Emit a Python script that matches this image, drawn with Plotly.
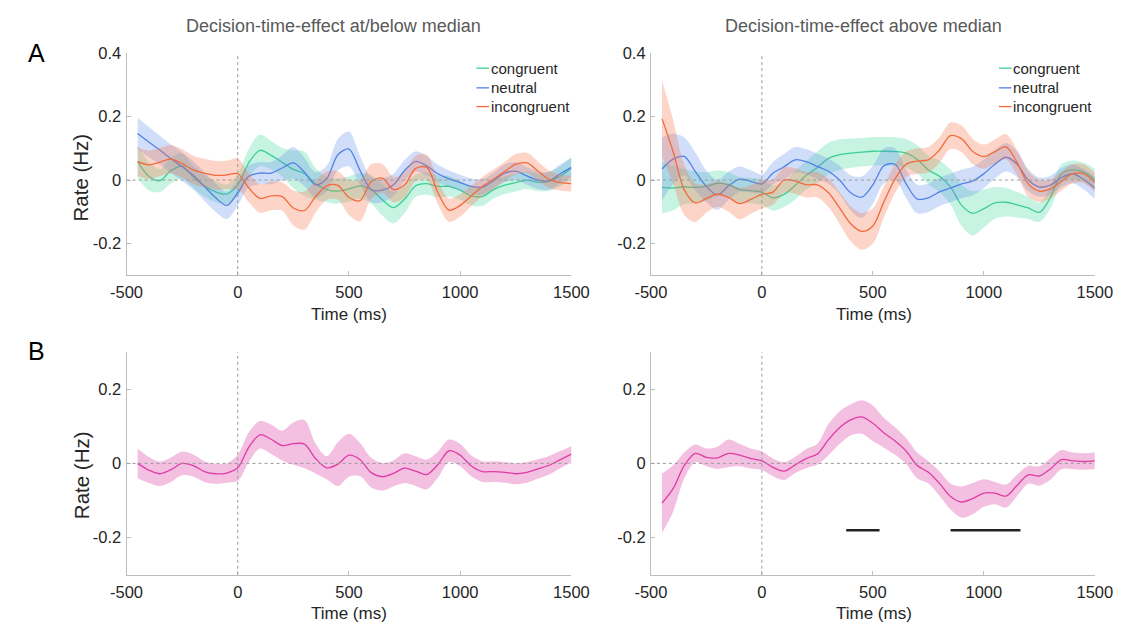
import plotly.graph_objects as go

W, H = 1139, 626

# ---------------------------------------------------------------- data
t_ms = list(range(-450, 1501, 50))

x_ticks = [-500, 0, 500, 1000, 1500]
x_tick_text = ["-500", "0", "500", "1000", "1500"]
y_ticks_a = [-0.2, 0, 0.2, 0.4]
y_tick_text_a = ["-0.2", "0", "0.2", "0.4"]
y_ticks_b = [-0.2, 0, 0.2]
y_tick_text_b = ["-0.2", "0", "0.2"]

conditions = ["congruent", "neutral", "incongruent"]
panel_titles = ["Decision-time-effect at/below median", "Decision-time-effect above median"]

# at/below median: mean rate and SEM per condition
low_cong_mean = [0.058, 0.012, -0.002, 0.03, 0.044, 0.01, -0.018, -0.037, -0.044, -0.015,
                 0.055, 0.094, 0.078, 0.056, 0.034, 0.02, -0.012, -0.03, -0.035, -0.028,
                 -0.018, -0.03, -0.062, -0.087, -0.06, -0.018, -0.011, -0.02, -0.02, -0.032,
                 -0.05, -0.052, -0.03, -0.016, -0.008, 0.0, -0.007, -0.004, 0.012, 0.038]
low_cong_sem = [0.05, 0.045, 0.036, 0.04, 0.04, 0.035, 0.035, 0.033, 0.03, 0.035,
                0.045, 0.05, 0.045, 0.045, 0.06, 0.07, 0.05, 0.04, 0.04, 0.04,
                0.04, 0.045, 0.05, 0.05, 0.045, 0.035, 0.035, 0.035, 0.032, 0.03,
                0.03, 0.03, 0.028, 0.028, 0.028, 0.028, 0.028, 0.03, 0.032, 0.035]
low_neut_mean = [0.147, 0.12, 0.095, 0.067, 0.042, 0.015, -0.02, -0.055, -0.08, -0.04,
                 0.012, 0.022, 0.022, 0.038, 0.054, 0.025, -0.015, 0.005, 0.08, 0.098,
                 0.03, -0.03, -0.032, -0.015, 0.03, 0.059, 0.045, 0.02, 0.004, -0.008,
                 -0.02, -0.022, -0.002, 0.022, 0.028, 0.013, 0.0, -0.002, 0.02, 0.04]
low_neut_sem = [0.05, 0.048, 0.045, 0.045, 0.045, 0.045, 0.045, 0.045, 0.043, 0.04,
                0.035, 0.035, 0.035, 0.04, 0.05, 0.045, 0.04, 0.04, 0.05, 0.055,
                0.045, 0.04, 0.038, 0.035, 0.033, 0.032, 0.03, 0.028, 0.026, 0.025,
                0.025, 0.025, 0.025, 0.028, 0.028, 0.028, 0.028, 0.028, 0.03, 0.03]
low_inc_mean = [0.058, 0.048, 0.057, 0.066, 0.052, 0.032, 0.022, 0.015, 0.016, 0.02,
                -0.025, -0.058, -0.05, -0.052, -0.088, -0.096, -0.052, -0.018, -0.017, -0.055,
                -0.065, -0.005, 0.006, -0.03, -0.015, 0.037, 0.04, -0.04, -0.095, -0.08,
                -0.05, -0.02, 0.003, 0.027, 0.05, 0.054, 0.028, 0.002, -0.008, -0.011]
low_inc_sem = [0.045, 0.045, 0.045, 0.045, 0.045, 0.045, 0.045, 0.045, 0.045, 0.048,
               0.045, 0.045, 0.045, 0.045, 0.055, 0.06, 0.05, 0.045, 0.045, 0.055,
               0.065, 0.055, 0.045, 0.04, 0.04, 0.04, 0.04, 0.037, 0.037, 0.035,
               0.032, 0.03, 0.03, 0.03, 0.032, 0.032, 0.03, 0.028, 0.025, 0.025]

# above median: mean rate and SEM per condition
high_cong_mean = [-0.023, -0.025, -0.021, -0.023, -0.02, -0.01, -0.015, -0.03, -0.033, -0.038,
                  -0.056, -0.045, -0.017, 0.015, 0.04, 0.068, 0.08, 0.085, 0.088, 0.091,
                  0.091, 0.09, 0.085, 0.065, 0.032, 0.012, -0.022, -0.08, -0.105, -0.09,
                  -0.072, -0.07, -0.078, -0.088, -0.102, -0.055, 0.02, 0.032, 0.025, 0.001]
high_cong_sem = [0.082, 0.07, 0.055, 0.05, 0.045, 0.04, 0.04, 0.04, 0.04, 0.04,
                 0.04, 0.04, 0.045, 0.045, 0.05, 0.05, 0.048, 0.046, 0.045, 0.045,
                 0.045, 0.045, 0.045, 0.045, 0.045, 0.05, 0.055, 0.065, 0.07, 0.06,
                 0.05, 0.045, 0.04, 0.035, 0.03, 0.035, 0.03, 0.03, 0.03, 0.035]
high_neut_mean = [0.035, 0.066, 0.075, 0.027, -0.02, -0.047, -0.018, 0.003, -0.004, -0.012,
                  0.022, 0.042, 0.064, 0.058, 0.043, 0.028, 0.0, -0.04, -0.054, -0.015,
                  0.045, 0.05, -0.012, -0.06, -0.056, -0.037, -0.025, -0.012, -0.003, 0.02,
                  0.05, 0.072, 0.05, 0.0, -0.022, -0.016, 0.008, 0.02, 0.002, -0.025]
high_neut_sem = [0.1, 0.08, 0.06, 0.06, 0.05, 0.047, 0.045, 0.04, 0.035, 0.03,
                 0.035, 0.04, 0.04, 0.04, 0.04, 0.04, 0.045, 0.055, 0.065, 0.06,
                 0.055, 0.05, 0.045, 0.045, 0.045, 0.045, 0.045, 0.045, 0.045, 0.045,
                 0.045, 0.045, 0.04, 0.035, 0.03, 0.03, 0.03, 0.03, 0.032, 0.035]
high_inc_mean = [0.194, 0.09, -0.03, -0.072, -0.058, -0.044, -0.055, -0.074, -0.061, -0.045,
                 -0.038, 0.0, -0.003, -0.015, -0.015, -0.04, -0.088, -0.138, -0.162, -0.145,
                 -0.068, 0.004, 0.05, 0.06, 0.064, 0.095, 0.14, 0.13, 0.09, 0.074,
                 0.09, 0.105, 0.055, -0.012, -0.035, -0.028, -0.003, 0.02, 0.02, -0.007]
high_inc_sem = [0.12, 0.1, 0.08, 0.06, 0.045, 0.04, 0.045, 0.05, 0.045, 0.045,
                0.04, 0.04, 0.04, 0.04, 0.04, 0.045, 0.05, 0.055, 0.058, 0.055,
                0.05, 0.045, 0.04, 0.04, 0.04, 0.04, 0.042, 0.042, 0.04, 0.038,
                0.038, 0.04, 0.04, 0.04, 0.035, 0.03, 0.03, 0.03, 0.03, 0.03]

# congruency effect (difference) per group
low_diff_mean = [0.0, -0.018, -0.028, -0.017, 0.0, -0.006, -0.022, -0.028, -0.026, -0.012,
                 0.044, 0.077, 0.065, 0.048, 0.053, 0.052, 0.013, -0.012, -0.002, 0.022,
                 0.01, -0.025, -0.036, -0.027, -0.013, -0.021, -0.03, -0.003, 0.034, 0.022,
                 -0.007, -0.022, -0.022, -0.024, -0.028, -0.024, -0.015, -0.005, 0.01, 0.025]
low_diff_sem = [0.04, 0.035, 0.033, 0.033, 0.032, 0.03, 0.028, 0.027, 0.026, 0.035,
                0.04, 0.037, 0.04, 0.04, 0.057, 0.065, 0.04, 0.031, 0.059, 0.058,
                0.045, 0.04, 0.037, 0.035, 0.04, 0.04, 0.04, 0.035, 0.03, 0.03,
                0.028, 0.028, 0.028, 0.028, 0.028, 0.028, 0.026, 0.025, 0.023, 0.022]
high_diff_mean = [-0.107, -0.068, -0.006, 0.027, 0.016, 0.015, 0.027, 0.022, 0.013, 0.007,
                  -0.011, -0.021, -0.004, 0.013, 0.025, 0.064, 0.096, 0.117, 0.125, 0.108,
                  0.082, 0.06, 0.033, -0.006, -0.024, -0.054, -0.089, -0.104, -0.095, -0.08,
                  -0.08, -0.088, -0.059, -0.031, -0.034, -0.015, 0.01, 0.007, 0.005, 0.007]
high_diff_sem = [0.08, 0.062, 0.035, 0.024, 0.024, 0.03, 0.037, 0.03, 0.027, 0.025,
                 0.024, 0.024, 0.022, 0.026, 0.028, 0.042, 0.044, 0.042, 0.045, 0.048,
                 0.04, 0.037, 0.035, 0.035, 0.03, 0.033, 0.035, 0.042, 0.042, 0.037,
                 0.03, 0.031, 0.029, 0.024, 0.026, 0.029, 0.026, 0.022, 0.022, 0.022]

# significant time windows (ms) for the above-median difference
sig_windows = [(380, 530), (850, 1165)]
sig_level = -0.18

# ---------------------------------------------------------------- styles
FONT = "Arial, 'Liberation Sans', Helvetica, sans-serif"
TEXT = "#262626"
AXIS = "#bdbdbd"
line_colors = {"congruent": "#3ccf95", "neutral": "#5181e6", "incongruent": "#f26a3c"}
fill_colors = {"congruent": "rgba(70,220,160,0.30)",
               "neutral": "rgba(90,135,235,0.28)",
               "incongruent": "rgba(245,120,85,0.32)"}
diff_line = "#e03ca5"
diff_fill = "rgba(232,130,195,0.50)"


def px(x):
    return x / W


def py(y):
    return 1 - y / H


fig = go.Figure()


def add_shaded(t, mean, sem, lc, fc, xa, ya):
    upper = [m + s for m, s in zip(mean, sem)]
    lower = [m - s for m, s in zip(mean, sem)]
    common = dict(x=t, mode="lines", xaxis=xa, yaxis=ya, showlegend=False, hoverinfo="skip")
    fig.add_trace(go.Scatter(y=upper, line=dict(width=0, shape="spline", smoothing=0.9), **common))
    fig.add_trace(go.Scatter(y=lower, line=dict(width=0, shape="spline", smoothing=0.9),
                             fill="tonexty", fillcolor=fc, **common))
    fig.add_trace(go.Scatter(y=mean, line=dict(width=1.3, color=lc, shape="spline", smoothing=0.9),
                             **common))


groups = {
    ("x", "y"): {"congruent": (low_cong_mean, low_cong_sem),
                 "neutral": (low_neut_mean, low_neut_sem),
                 "incongruent": (low_inc_mean, low_inc_sem)},
    ("x2", "y2"): {"congruent": (high_cong_mean, high_cong_sem),
                   "neutral": (high_neut_mean, high_neut_sem),
                   "incongruent": (high_inc_mean, high_inc_sem)},
}
for (xa, ya), series in groups.items():
    for cond in conditions:
        m, s = series[cond]
        add_shaded(t_ms, m, s, line_colors[cond], fill_colors[cond], xa, ya)

add_shaded(t_ms, low_diff_mean, low_diff_sem, diff_line, diff_fill, "x3", "y3")
add_shaded(t_ms, high_diff_mean, high_diff_sem, diff_line, diff_fill, "x4", "y4")

# ---------------------------------------------------------------- axes
x_left = [px(113), px(572)]
x_right = [px(654), px(1112)]
y_top = [py(270), py(45)]
y_bot = [py(574), py(348)]

axis_common = dict(showline=True, linecolor=AXIS, linewidth=1, ticks="inside", ticklen=4,
                   tickcolor=AXIS, tickwidth=1, showgrid=False, zeroline=False,
                   tickfont=dict(family=FONT, size=16.5, color=TEXT), mirror=False)
xcommon = dict(axis_common, range=[-500, 1500], tickmode="array", tickvals=x_ticks,
               ticktext=x_tick_text, ticklabelstandoff=2)


def ycommon(domain, anchor, rng, vals, text):
    return dict(axis_common, domain=domain, anchor=anchor, range=rng, tickmode="array",
                tickvals=vals, ticktext=text, ticklabelstandoff=1)


layout_axes = {
    "xaxis": dict(xcommon, domain=x_left, anchor="y"),
    "xaxis2": dict(xcommon, domain=x_right, anchor="y2"),
    "xaxis3": dict(xcommon, domain=x_left, anchor="y3"),
    "xaxis4": dict(xcommon, domain=x_right, anchor="y4"),
    "yaxis": ycommon(y_top, "x", [-0.3, 0.4], y_ticks_a, y_tick_text_a),
    "yaxis2": ycommon(y_top, "x2", [-0.3, 0.4], y_ticks_a, y_tick_text_a),
    "yaxis3": ycommon(y_bot, "x3", [-0.3, 0.3], y_ticks_b, y_tick_text_b),
    "yaxis4": ycommon(y_bot, "x4", [-0.3, 0.3], y_ticks_b, y_tick_text_b),
}

# ---------------------------------------------------------------- shapes
shapes = []
ref_line = dict(color="#9a9a9a", width=1, dash="3px,3px")
for xa, ya in [("x", "y"), ("x2", "y2"), ("x3", "y3"), ("x4", "y4")]:
    shapes.append(dict(type="line", xref=xa, yref=ya, x0=-500, x1=1500, y0=0, y1=0,
                       line=ref_line, layer="above"))
    shapes.append(dict(type="line", xref=xa, yref=ya + " domain", x0=0, x1=0, y0=0, y1=1,
                       line=ref_line, layer="above"))

for start, end in sig_windows:
    shapes.append(dict(type="line", xref="x4", yref="y4", x0=start, x1=end,
                       y0=sig_level, y1=sig_level, line=dict(color="#222222", width=2.5)))

# legend swatches drawn as short strokes next to the labels
legend_rows = [60, 80, 99]
for x_line0, x_line1 in [(474, 487), (1013, 1026)]:
    for cond, yy in zip(conditions, legend_rows):
        shapes.append(dict(type="line", xref="paper", yref="paper", x0=px(x_line0), x1=px(x_line1),
                           y0=py(yy), y1=py(yy), line=dict(color=line_colors[cond], width=1.3)))

# ---------------------------------------------------------------- text
annotations = []


def label(text, x, y, size, color=TEXT, angle=0, xanchor="center"):
    annotations.append(dict(text=text, x=px(x), y=py(y), xref="paper", yref="paper",
                            showarrow=False, xanchor=xanchor, yanchor="middle",
                            textangle=angle, font=dict(family=FONT, size=size, color=color)))


label(panel_titles[0], 327, 17, 18, color="#595959")
label(panel_titles[1], 873, 17, 18, color="#595959")
label("A", 20, 45, 25, color="#000000")
label("B", 20, 347, 25, color="#000000")
label("Rate (Hz)", 66, 171, 20.5, angle=-90)
label("Rate (Hz)", 66, 473, 20.5, angle=-90)
for xc in (343, 884):
    label("Time (ms)", xc, 310, 17)
    label("Time (ms)", xc, 613, 17)
for x_text in (487, 1026):
    for cond, yy in zip(conditions, legend_rows):
        label(cond, x_text, yy, 15, xanchor="left")

fig.update_layout(
    width=W, height=H,
    margin=dict(l=0, r=0, t=0, b=0),
    paper_bgcolor="white", plot_bgcolor="white",
    showlegend=False,
    shapes=shapes,
    annotations=annotations,
    **layout_axes,
)

# the page body should not add its own offset around the fixed-size figure
fig.write_html("out.html",
               post_script="document.body.style.margin='0';"
                           "document.documentElement.style.overflow='hidden';")
